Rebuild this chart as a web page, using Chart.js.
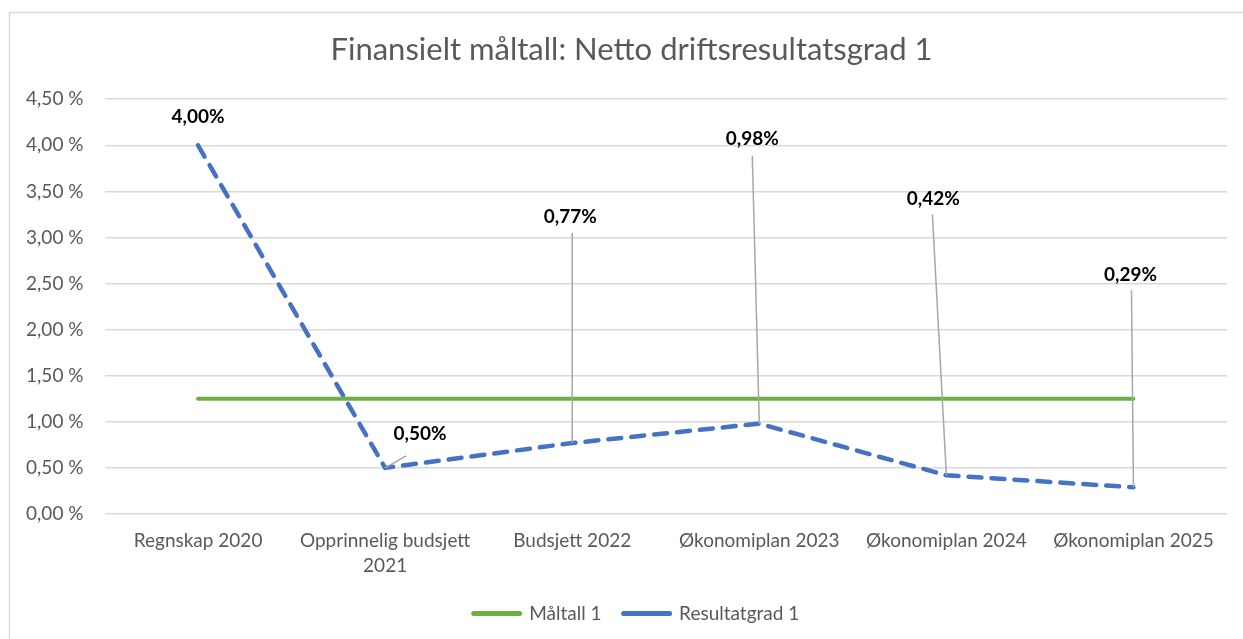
<!DOCTYPE html>
<html>
<head>
<meta charset="utf-8">
<script src="https://cdn.jsdelivr.net/npm/chart.js@4/dist/chart.umd.min.js"></script>
<style>
  html, body { margin: 0; padding: 0; background: #ffffff; }
  #wrap { position: relative; width: 1243px; height: 639px; }
</style>
</head>
<body>
<div id="wrap"><canvas id="c"></canvas></div>
<script>
// ---- data ----
const categories = ['Regnskap 2020', 'Opprinnelig budsjett 2021', 'Budsjett 2022', 'Økonomiplan 2023', 'Økonomiplan 2024', 'Økonomiplan 2025'];
const maltall = [1.25, 1.25, 1.25, 1.25, 1.25, 1.25];
const resultatgrad = [4.00, 0.50, 0.77, 0.98, 0.42, 0.29];
const seriesNames = ['Måltall 1', 'Resultatgrad 1'];
const yTicks = [0, 0.5, 1, 1.5, 2, 2.5, 3, 3.5, 4, 4.5];
const chartTitle = 'Finansielt måltall: Netto driftsresultatsgrad 1';

const FONT = 'Lato, "Liberation Sans", sans-serif';
const TEXT = '#595959';

function fmtComma(v, digits) { return v.toFixed(digits).replace('.', ','); }

// label placements (pixel offsets from the data point) for the callouts
const labelPlacement = [
  { dx: 0,   dy: -28,  leader: null },
  { dx: 35,  dy: -34,  leader: { ex: 21, ey: -12 } },
  { dx: -2,  dy: -226, leader: { ex: 0,  ey: -210 } },
  { dx: -7,  dy: -285, leader: { ex: -7, ey: -268 } },
  { dx: -13, dy: -276, leader: { ex: -14, ey: -261 } },
  { dx: -3,  dy: -212, leader: { ex: -2, ey: -197 } }
];

const borderPlugin = {
  id: 'outerBorder',
  afterLayout(chart) {
    // Shift title and legend to match the original's slightly off-centre placement
    if (chart.titleBlock) chart.titleBlock.left += 26;
    if (chart.legend) chart.legend.left += 36;
  },
  beforeDraw(chart) {
    const ctx = chart.ctx;
    ctx.save();
    ctx.fillStyle = '#ffffff';
    ctx.fillRect(0, 0, chart.width, chart.height);
    ctx.strokeStyle = '#D9D9D9';
    ctx.lineWidth = 1.5;
    ctx.beginPath();
    ctx.moveTo(9.5, chart.height);
    ctx.lineTo(9.5, 12.5);
    ctx.lineTo(chart.width, 12.5);
    ctx.stroke();
    ctx.restore();
  }
};

const calloutPlugin = {
  id: 'callouts',
  afterDatasetsDraw(chart) {
    const meta = chart.getDatasetMeta(1);
    const ctx = chart.ctx;
    ctx.save();
    meta.data.forEach((pt, i) => {
      const p = labelPlacement[i];
      const lx = pt.x + p.dx, ly = pt.y + p.dy;
      if (p.leader) {
        ctx.strokeStyle = '#A6A6A6';
        ctx.lineWidth = 1.5;
        ctx.beginPath();
        ctx.moveTo(pt.x, pt.y);
        ctx.lineTo(pt.x + p.leader.ex, pt.y + p.leader.ey);
        ctx.stroke();
      }
      ctx.fillStyle = '#000000';
      ctx.font = 'bold 19px ' + FONT;
      ctx.textAlign = 'center';
      ctx.textBaseline = 'middle';
      ctx.fillText(fmtComma(resultatgrad[i], 2) + '%', lx, ly);
    });
    ctx.restore();
  }
};

new Chart(document.getElementById('c'), {
  type: 'line',
  data: {
    labels: categories,
    datasets: [
      {
        label: seriesNames[0],
        data: maltall,
        borderColor: '#70AD47',
        backgroundColor: '#70AD47',
        borderWidth: 4,
        borderCapStyle: 'round',
        pointRadius: 0,
        tension: 0
      },
      {
        label: seriesNames[1],
        data: resultatgrad,
        borderColor: '#4472C4',
        backgroundColor: '#4472C4',
        borderWidth: 4.5,
        borderDash: [13, 10],
        borderCapStyle: 'round',
        pointRadius: 0,
        tension: 0
      }
    ]
  },
  options: {
    responsive: true,
    maintainAspectRatio: false,
    animation: false,
    devicePixelRatio: 1,
    layout: { padding: { left: 10, right: 16, top: 0, bottom: 6 } },
    plugins: {
      title: {
        display: true,
        text: chartTitle,
        color: TEXT,
        font: { family: FONT, size: 31, weight: 'normal' },
        padding: { top: 31, bottom: 31 }
      },
      legend: {
        position: 'bottom',
        labels: {
          color: TEXT,
          font: { family: FONT, size: 19 },
          usePointStyle: true,
          pointStyle: 'line',
          pointStyleWidth: 46,
          padding: 22,
          generateLabels(chart) {
            const items = Chart.defaults.plugins.legend.labels.generateLabels(chart);
            items.forEach(it => { it.lineDash = []; it.lineWidth = 5; it.lineCap = 'round'; it.pointStyle = 'line'; });
            return items;
          }
        }
      },
      tooltip: { enabled: false }
    },
    scales: {
      x: {
        offset: true,
        grid: { display: false, drawTicks: false, offset: true },
        border: { display: false },
        ticks: {
          color: TEXT,
          font: { family: FONT, size: 19, lineHeight: 1.32 },
          padding: 14,
          maxRotation: 0,
          autoSkip: false,
          callback(v, i) {
            const s = categories[i];
            if (s.length > 20) { const k = s.lastIndexOf(' '); return [s.slice(0, k), s.slice(k + 1)]; }
            return s;
          }
        },
        afterFit(scale) { scale.height = 68; }
      },
      y: {
        min: 0,
        max: 4.5,
        afterBuildTicks(scale) { scale.ticks = yTicks.map(v => ({ value: v })); },
        grid: { color: '#D9D9D9', lineWidth: 1.5, drawTicks: false },
        border: { display: false },
        ticks: {
          color: TEXT,
          font: { family: FONT, size: 19 },
          padding: 21,
          callback(v) { return fmtComma(v, 2) + ' %'; }
        },
        afterFit(scale) { scale.width = 94.5; }
      }
    }
  },
  plugins: [borderPlugin, calloutPlugin]
});
</script>
</body>
</html>
